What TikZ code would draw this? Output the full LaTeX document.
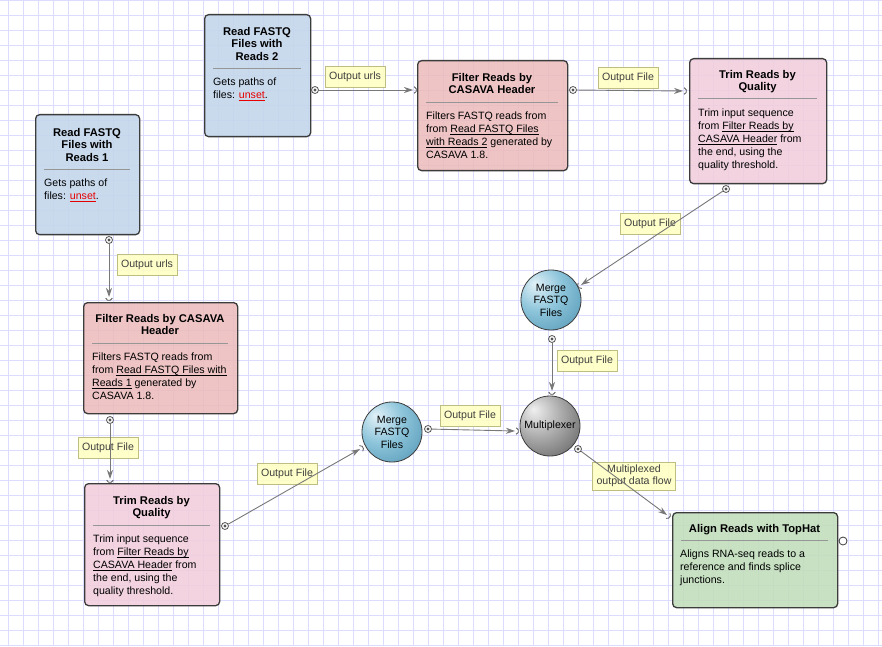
\documentclass[tikz,border=0pt]{standalone}
\usepackage{fontspec}
\setmainfont{Liberation Sans}
\usetikzlibrary{arrows.meta}
\definecolor{gridblue}{RGB}{220,220,255}
\definecolor{readblue}{RGB}{194,214,235}
\definecolor{filterred}{RGB}{236,188,188}
\definecolor{trimpink}{RGB}{241,206,219}
\definecolor{tophatgreen}{RGB}{192,221,186}
\definecolor{boxborder}{RGB}{60,60,60}
\definecolor{sepgray}{RGB}{150,150,150}
\definecolor{labelfill}{RGB}{255,255,196}
\definecolor{labelborder}{RGB}{190,190,130}
\definecolor{labeltext}{RGB}{64,64,64}
\definecolor{flowgray}{RGB}{120,120,120}
\definecolor{linkred}{RGB}{230,0,0}
\definecolor{mergelight}{RGB}{226,241,247}
\definecolor{mergemid}{RGB}{140,196,218}
\definecolor{mergedark}{RGB}{72,140,172}
\definecolor{muxlight}{RGB}{240,240,240}
\definecolor{muxmid}{RGB}{170,170,170}
\definecolor{muxdark}{RGB}{80,80,80}
\pgfdeclareradialshading{mergeshade}{\pgfpoint{-14bp}{14bp}}{color(0bp)=(mergelight); color(20bp)=(mergemid); color(48bp)=(mergedark); color(75bp)=(mergedark)}
\pgfdeclareradialshading{muxshade}{\pgfpoint{-14bp}{14bp}}{color(0bp)=(muxlight); color(20bp)=(muxmid); color(48bp)=(muxdark); color(75bp)=(muxdark)}
\newsavebox{\linkbox}
\newcommand{\linktxt}[1]{\sbox{\linkbox}{#1}\rlap{\rule[-1.7pt]{\wd\linkbox}{0.6pt}}\usebox{\linkbox}}
\newcommand{\unsetlink}{\textcolor{linkred}{\linktxt{unset}}}
\tikzset{
  gridline/.style={draw=gridblue, line width=0.8pt},
  flowbox/.style={draw=boxborder, line width=1.3pt, rounded corners=4pt, fill opacity=0.88, inner sep=0pt},
  boxtitle/.style={font=\fontsize{11.2}{12.5}\selectfont\bfseries, align=center, inner sep=0pt},
  boxbody/.style={font=\fontsize{10.6}{13}\selectfont, align=left, inner sep=0pt},
  sepline/.style={draw=sepgray, line width=0.8pt},
  flowlabel/.style={draw=labelborder, fill=labelfill, fill opacity=0.9, text opacity=1, text=labeltext, inner xsep=4pt, inner ysep=3pt, minimum height=21pt, font=\fontsize{10.6}{12}\selectfont, align=center},
  flowline/.style={draw=flowgray, line width=0.9pt, -{Stealth[length=9pt, width=6pt]}},
  inportarc/.style={draw=flowgray!70!black, line width=0.8pt},
  outport/.style={circle, draw=flowgray!70!black, fill=white, line width=0.8pt, minimum size=7pt, inner sep=0pt, path picture={\fill[flowgray!70!black] (path picture bounding box.center) circle (1.6pt);}},
  openport/.style={circle, draw=boxborder, fill=white, line width=0.8pt, minimum size=8pt, inner sep=0pt},
  mergeball/.style={circle, draw=boxborder, line width=0.8pt, minimum size=60pt, inner sep=0pt, shading=mergeshade, align=center, font=\fontsize{10.6}{12.5}\selectfont},
  muxball/.style={circle, draw=boxborder, line width=0.8pt, minimum size=60pt, inner sep=0pt, shading=muxshade, font=\fontsize{10.6}{12.5}\selectfont}
}
\begin{document}
\begin{tikzpicture}[x=1pt, y=1pt]
  %% 1. Background and grid
  \useasboundingbox (0,0) rectangle (882,646);
  \fill[white] (0,0) rectangle (882,646);
  \foreach \gx in {8,23,...,878} \draw[gridline] (\gx,0) -- (\gx,646);
  \foreach \gy in {1,16,...,646} \draw[gridline] (0,\gy) -- (882,\gy);

  %% 2. Labels on the connectors
  \node[flowlabel] (urltoplabel) at (355,569) {Output urls};
  \node[flowlabel] (filetoplabel) at (628,568) {Output File};
  \node[flowlabel] (filetrimlabel) at (650,422) {Output File};
  \node[flowlabel] (urlleftlabel) at (147,381) {Output urls};
  \node[flowlabel] (fileleftlabel) at (108,198) {Output File};
  \node[flowlabel] (filebottomlabel) at (287,172) {Output File};
  \node[flowlabel] (filemergelabel) at (470,230) {Output File};
  \node[flowlabel] (filemuxlabel) at (587,285) {Output File};
  \node[flowlabel] (muxlabel) at (634,170) {Multiplexed\\output data flow};

  %% 3. Blocks
  \node[flowbox, fill=readblue, minimum width=106, minimum height=122, anchor=north west] (readtwo) at (204,632) {};
  \node[flowbox, fill=readblue, minimum width=104, minimum height=120, anchor=north west] (readone) at (35,532) {};
  \node[flowbox, fill=filterred, minimum width=150, minimum height=110, anchor=north west] (filtertop) at (417,586) {};
  \node[flowbox, fill=trimpink, minimum width=137, minimum height=125, anchor=north west] (trimtop) at (689,588) {};
  \node[flowbox, fill=filterred, minimum width=154, minimum height=111, anchor=north west] (filterleft) at (83,344) {};
  \node[flowbox, fill=trimpink, minimum width=135, minimum height=122, anchor=north west] (trimleft) at (84,163) {};
  \node[flowbox, fill=tophatgreen, minimum width=165, minimum height=95, anchor=north west] (tophat) at (672,134) {};
  \node[mergeball] (mergetop) at (551,346) {Merge\\FASTQ\\Files};
  \node[mergeball] (mergeleft) at (392,214) {Merge\\FASTQ\\Files};
  \node[muxball] (mux) at (550,220) {Multiplexer};

  %% 4. Block texts
  \node[boxtitle, anchor=north] (readtwotitle) at (257,619) {Read FASTQ\\Files with\\Reads 2};
  \draw[sepline] (213,578) -- (301,578);
  \node[boxbody, anchor=north west] (readtwobody) at (213,568) {Gets paths of\\files: \unsetlink.};

  \node[boxtitle, anchor=north] (readonetitle) at (87,518) {Read FASTQ\\Files with\\Reads 1};
  \draw[sepline] (44,477) -- (130,477);
  \node[boxbody, anchor=north west] (readonebody) at (44,467) {Gets paths of\\files: \unsetlink.};

  \node[boxtitle, anchor=north] (filtertoptitle) at (492,573) {Filter Reads by\\CASAVA Header};
  \draw[sepline] (426,544) -- (558,544);
  \node[boxbody, anchor=north west] (filtertopbody) at (426,534) {Filters FASTQ reads from\\from \linktxt{Read FASTQ Files}\\\linktxt{with Reads 2} generated by\\CASAVA 1.8.};

  \node[boxtitle, anchor=north] (trimtoptitle) at (757.5,576) {Trim Reads by\\Quality};
  \draw[sepline] (698,548) -- (817,548);
  \node[boxbody, anchor=north west] (trimtopbody) at (698,537) {Trim input sequence\\from \linktxt{Filter Reads by}\\\linktxt{CASAVA Header} from\\the end, using the\\quality threshold.};

  \node[boxtitle, anchor=north] (filterlefttitle) at (160,332) {Filter Reads by CASAVA\\Header};
  \draw[sepline] (92,303) -- (228,303);
  \node[boxbody, anchor=north west] (filterleftbody) at (92,293) {Filters FASTQ reads from\\from \linktxt{Read FASTQ Files with}\\\linktxt{Reads 1} generated by\\CASAVA 1.8.};

  \node[boxtitle, anchor=north] (trimlefttitle) at (151.5,150) {Trim Reads by\\Quality};
  \draw[sepline] (93,121) -- (210,121);
  \node[boxbody, anchor=north west] (trimleftbody) at (93,111) {Trim input sequence\\from \linktxt{Filter Reads by}\\\linktxt{CASAVA Header} from\\the end, using the\\quality threshold.};

  \node[boxtitle, anchor=north] (tophattitle) at (754.5,122) {Align Reads with TopHat};
  \draw[sepline] (681,106) -- (828,106);
  \node[boxbody, anchor=north west] (tophatbody) at (680,96) {Aligns RNA-seq reads to a\\reference and finds splice\\junctions.};

  %% 5. Ports
  \node[outport] (readtwoout) at (315,556) {};
  \coordinate (filtertopin) at (413,556);
  \node[outport] (filtertopout) at (573,556) {};
  \coordinate (trimtopin) at (683,555);
  \node[outport] (trimtopout) at (726,457) {};
  \coordinate (mergetopin) at (581,361);
  \node[outport] (mergetopout) at (552,307) {};
  \coordinate (muxtopin) at (552,255);
  \node[outport] (readoneout) at (109,406) {};
  \coordinate (filterleftin) at (109,349);
  \node[outport] (filterleftout) at (110,226) {};
  \coordinate (trimleftin) at (110,167);
  \node[outport] (trimleftout) at (225,120) {};
  \coordinate (mergeleftin) at (360,197);
  \node[outport] (mergeleftout) at (428,217) {};
  \coordinate (muxleftin) at (515,215);
  \node[outport] (muxout) at (578,197) {};
  \coordinate (tophatin) at (667,131);
  \node[openport] (tophatout) at (843,105) {};

  %% 6. Connectors
  \foreach \src/\dst/\ang in {readtwoout/filtertopin/0, filtertopout/trimtopin/0,
      trimtopout/mergetopin/213.5, readoneout/filterleftin/270, filterleftout/trimleftin/270,
      trimleftout/mergeleftin/29.7, mergeleftout/muxleftin/-1.3, mergetopout/muxtopin/270,
      muxout/tophatin/-36.6}{
    \draw[flowline] (\src) -- (\dst);
    \draw[inportarc, shift={(\dst)}] (\ang-70:3.5) arc[start angle=\ang-70, end angle=\ang+70, radius=3.5];
  }
\end{tikzpicture}
\end{document}
